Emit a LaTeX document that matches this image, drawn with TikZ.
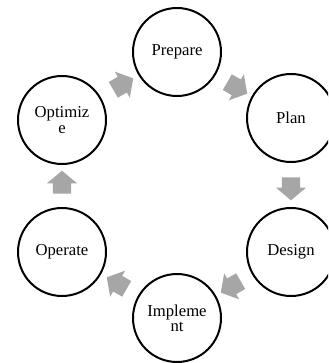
\documentclass[tikz,border=0pt]{standalone}
\usepackage{fontspec}
\setmainfont{Liberation Serif}
\usetikzlibrary{shapes.arrows}

\definecolor{arrowgray}{RGB}{166,166,166}
\tikzset{every picture/.style={line width=0.75pt}}
\tikzset{
  phase/.style={draw=black, line width=1.5pt, circle, minimum size=66pt, inner sep=0pt,
    align=center, font=\fontsize{12.5}{11.5}\selectfont},
  flowarrow/.style={single arrow, fill=arrowgray, draw=none, inner xsep=0pt, inner ysep=6.4pt,
    minimum height=17.25pt, single arrow head extend=4.5pt,
    single arrow tip angle=100}
}

\begin{document}
\begin{tikzpicture}[x=0.75pt,y=0.75pt,yscale=-1]
        \useasboundingbox (0,0) rectangle (328,363);
        \clip (0,0) rectangle (328,363);
        % phases
        \node [phase] (prepare) at (177,52) {Prepare};
        \node [phase] (plan) at (291,118) {Plan};
        \node [phase] (design) at (291,252) {Design};
        \node [phase] (implement) at (177,318) {Impleme\\nt};
        \node [phase] (operate) at (62,252) {Operate};
        \node [phase] (optimize) at (62,120) {Optimiz\\e};
        % arrows between phases
        \node [flowarrow, rotate=-30] (toplan) at (234,86) {};
        \node [flowarrow, rotate=-90] (todesign) at (291,185) {};
        \node [flowarrow, rotate=-150] (toimplement) at (234,285) {};
        \node [flowarrow, rotate=150] (tooperate) at (120,285) {};
        \node [flowarrow, rotate=90] (tooptimize) at (62,186) {};
        \node [flowarrow, rotate=30] (toprepare) at (120,86) {};
\end{tikzpicture}
\end{document}
